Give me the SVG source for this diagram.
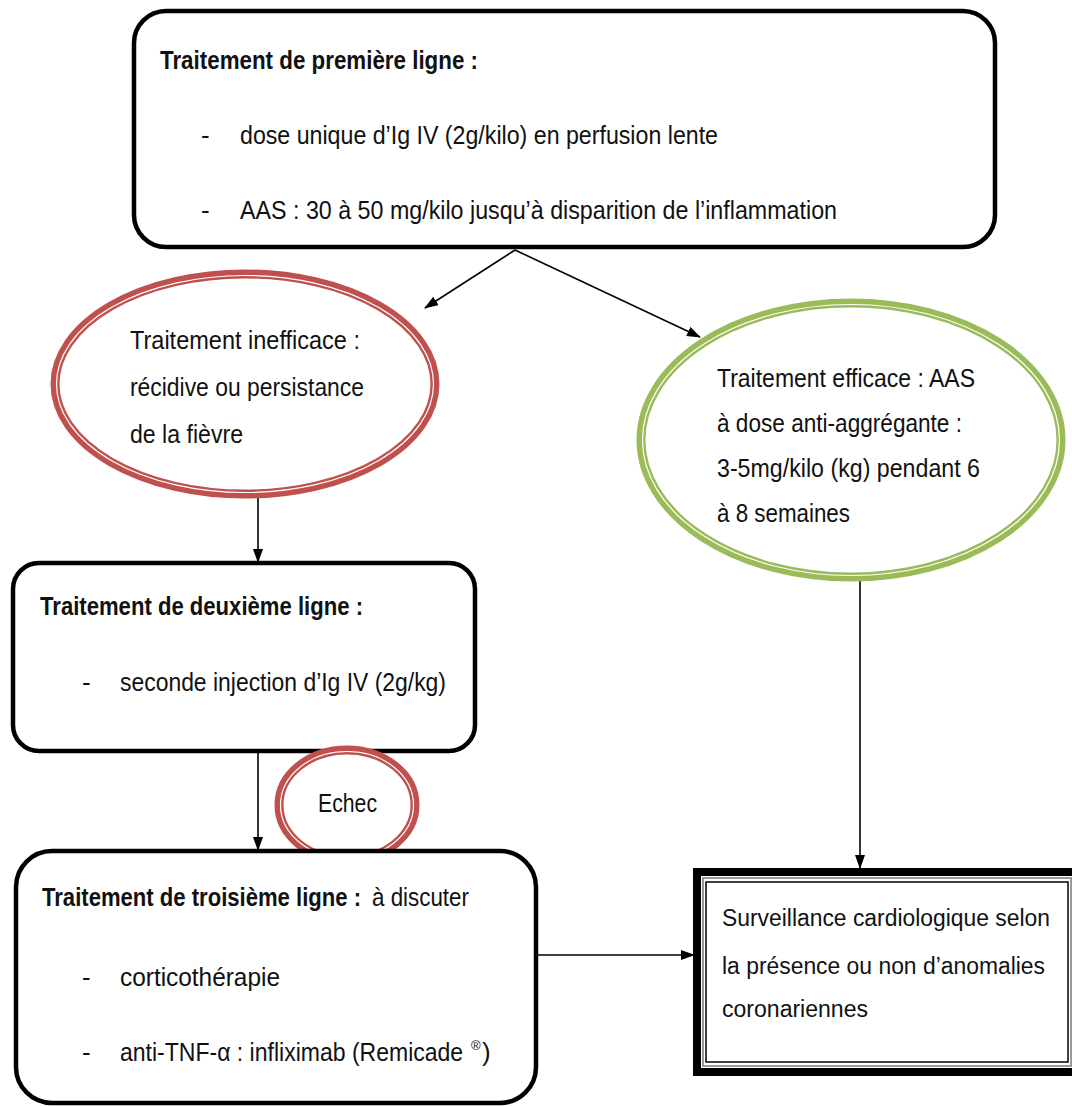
<svg xmlns="http://www.w3.org/2000/svg" width="1072" height="1107" viewBox="0 0 1072 1107">
<style>
.t{font-family:"Liberation Sans",Arial,sans-serif;font-size:26px;fill:#111;}
.s{font-size:23px;}
.b{font-weight:bold;}
.box{fill:#fff;stroke:#000;stroke-width:4.5;}
.ln{stroke:#000;stroke-width:1.6;fill:none;marker-end:url(#ah);}
.red{fill:#fff;stroke:#c0504d;stroke-width:9;}
.grn{fill:#fff;stroke:#9bbb59;stroke-width:9;}
.wl{fill:none;stroke:#fff;stroke-width:1.2;}
</style>
<defs>
<marker id="ah" markerWidth="14" markerHeight="10" refX="13" refY="5" orient="auto" markerUnits="userSpaceOnUse">
<path d="M0,0 L14,5 L0,10 Z" fill="#000"/>
</marker>
</defs>
<rect width="1072" height="1107" fill="#fff"/>

<g id="connectors">
<line class="ln" x1="515" y1="250" x2="425" y2="308"/>
<line class="ln" x1="515" y1="250" x2="700" y2="337"/>
<line class="ln" x1="258" y1="497" x2="258" y2="562"/>
<line class="ln" x1="258" y1="752" x2="258" y2="850"/>
<line class="ln" x1="860" y1="580" x2="860" y2="868"/>
<line class="ln" x1="533" y1="955" x2="694" y2="955"/>
</g>

<g id="n1">
<rect class="box" x="134" y="11" width="861" height="236" rx="32"/>
<text class="t b" x="160" y="69" textLength="318" lengthAdjust="spacingAndGlyphs">Traitement de première ligne :</text>
<text class="t" x="201" y="144">-</text>
<text class="t" x="240" y="144" textLength="478" lengthAdjust="spacingAndGlyphs">dose unique d’Ig IV (2g/kilo) en perfusion lente</text>
<text class="t" x="201" y="219">-</text>
<text class="t" x="240" y="219" textLength="597" lengthAdjust="spacingAndGlyphs">AAS : 30 à 50 mg/kilo jusqu’à disparition de l’inflammation</text>
</g>

<g id="n2">
<ellipse class="red" cx="245" cy="384" rx="190" ry="110"/>
<ellipse class="wl" cx="245" cy="384" rx="188.5" ry="108.5"/>
<text class="t" x="130" y="349" textLength="230" lengthAdjust="spacingAndGlyphs">Traitement inefficace :</text>
<text class="t" x="130" y="396" textLength="234" lengthAdjust="spacingAndGlyphs">récidive ou persistance</text>
<text class="t" x="130" y="443" textLength="113" lengthAdjust="spacingAndGlyphs">de la fièvre</text>
</g>

<g id="n3">
<ellipse class="grn" cx="851" cy="440" rx="210" ry="137"/>
<ellipse class="wl" cx="851" cy="440" rx="208.5" ry="135.5"/>
<text class="t" x="717" y="387" textLength="258" lengthAdjust="spacingAndGlyphs">Traitement efficace : AAS</text>
<text class="t" x="717" y="432" textLength="245" lengthAdjust="spacingAndGlyphs">à dose anti-aggrégante :</text>
<text class="t" x="717" y="477" textLength="263" lengthAdjust="spacingAndGlyphs">3-5mg/kilo (kg) pendant 6</text>
<text class="t" x="717" y="522" textLength="133" lengthAdjust="spacingAndGlyphs">à 8 semaines</text>
</g>

<g id="n4">
<rect class="box" x="13" y="563" width="462" height="188" rx="26"/>
<text class="t b" x="40" y="615" textLength="323" lengthAdjust="spacingAndGlyphs">Traitement de deuxième ligne :</text>
<text class="t" x="82" y="691">-</text>
<text class="t" x="120" y="691" textLength="326" lengthAdjust="spacingAndGlyphs">seconde injection d’Ig IV (2g/kg)</text>
</g>

<g id="n5">
<ellipse class="red" cx="347" cy="805" rx="68" ry="55"/>
<ellipse class="wl" cx="347" cy="805" rx="66.5" ry="53.5"/>
<text class="t" x="318" y="812" textLength="59" lengthAdjust="spacingAndGlyphs">Echec</text>
</g>

<g id="n6">
<rect class="box" x="16" y="851" width="520" height="252" rx="36"/>
<text class="t b" transform="translate(42,906) scale(0.85,1)">Traitement de troisième ligne :</text>
<text class="t" transform="translate(372,906) scale(0.86,1)">à discuter</text>
<text class="t" x="82" y="986">-</text>
<text class="t" x="120" y="986" textLength="160" lengthAdjust="spacingAndGlyphs">corticothérapie</text>
<text class="t" x="82" y="1061">-</text>
<text class="t" transform="translate(120,1061) scale(0.885,1)">anti-TNF-α : infliximab (Remicade</text>
<text class="t" x="471" y="1050" style="font-size:13px">®</text>
<text class="t" x="482" y="1061">)</text>
</g>

<g id="n7">
<rect x="697" y="872" width="380" height="200" fill="#fff" stroke="#000" stroke-width="8"/>
<rect x="703" y="878" width="368" height="188" fill="none" stroke="#999" stroke-width="2"/>
<rect x="706" y="882" width="362" height="180" fill="none" stroke="#000" stroke-width="1.5"/>
<text class="t s" x="722" y="926" textLength="328" lengthAdjust="spacingAndGlyphs">Surveillance cardiologique selon</text>
<text class="t s" x="722" y="974" textLength="323" lengthAdjust="spacingAndGlyphs">la présence ou non d’anomalies</text>
<text class="t s" x="722" y="1017" textLength="146" lengthAdjust="spacingAndGlyphs">coronariennes</text>
</g>
</svg>
